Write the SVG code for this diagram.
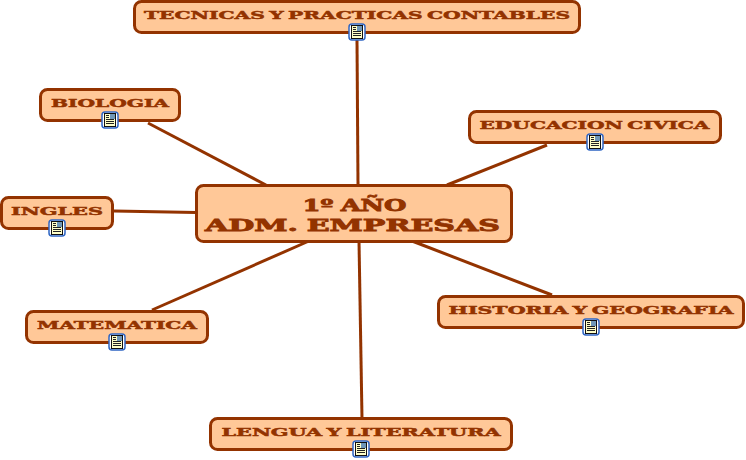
<svg xmlns="http://www.w3.org/2000/svg" width="746" height="460" viewBox="0 0 746 460">
<style>
.n{fill:#ffc898;stroke:#933300;stroke-width:3}
.t{font-family:"DejaVu Serif","Liberation Serif",serif;font-weight:bold;fill:#933300;stroke:#933300;stroke-width:.5;font-size:11.500px;word-spacing:-1.500px;text-anchor:middle}
.m{font-size:16.500px;stroke-width:.8;word-spacing:-1px}
.c{stroke:#933300;stroke-width:3;fill:none}
.i0{fill:#ffffff;stroke:#2f66c4;stroke-width:1.500}
.i2{fill:#ffffc8;stroke:#111;stroke-width:1}
.i3{stroke:#222;stroke-width:1}
.i4{fill:#6f97b8}
</style>
<defs>
<g id="ic">
<rect class="i0" x="-8" y="-8" width="16" height="16" rx="3"/>
<rect class="i2" x="-5.500" y="-6.500" width="11" height="13"/>
<rect class="i4" x="0" y="-6" width="5" height="5"/>
<path class="i3" d="M-4-4.500H-1M-4-2.500H-1M-4-.5H4M-4 1.500H4M-4 3.500H4"/>
</g>
</defs>
<g id="connectors">
<path class="c" d="M357 40L358 185"/>
<path class="c" d="M148 123L266 185"/>
<path class="c" d="M547 145L447 185"/>
<path class="c" d="M114 211L196 212.500"/>
<path class="c" d="M152 310L309 241"/>
<path class="c" d="M552 295L412 241"/>
<path class="c" d="M359 241L362 418"/>
</g>
<g id="n-main"><rect class="n" x="196.500" y="185.500" width="315" height="56" rx="7"/>
<text class="t m" x="354.500" y="211" textLength="104" lengthAdjust="spacingAndGlyphs">1º AÑO</text>
<text class="t m" x="352.500" y="230.500" textLength="295" lengthAdjust="spacingAndGlyphs">ADM. EMPRESAS</text></g>
<g id="n-tecnicas"><rect class="n" x="134.500" y="1.500" width="445" height="31" rx="7"/>
<text class="t" x="357" y="19" textLength="426" lengthAdjust="spacingAndGlyphs">TECNICAS Y PRACTICAS CONTABLES</text><use href="#ic" x="357" y="32"/></g>
<g id="n-biologia"><rect class="n" x="40.500" y="89.500" width="139" height="31" rx="7"/>
<text class="t" x="110" y="107" textLength="118" lengthAdjust="spacingAndGlyphs">BIOLOGIA</text><use href="#ic" x="110" y="120"/></g>
<g id="n-educacion"><rect class="n" x="469.500" y="111.500" width="251" height="31" rx="7"/>
<text class="t" x="594.500" y="129" textLength="230" lengthAdjust="spacingAndGlyphs">EDUCACION CIVICA</text><use href="#ic" x="595" y="142"/></g>
<g id="n-ingles"><rect class="n" x="1.500" y="197.500" width="111" height="31" rx="7"/>
<text class="t" x="57" y="215" textLength="92" lengthAdjust="spacingAndGlyphs">INGLES</text><use href="#ic" x="57" y="228"/></g>
<g id="n-matematica"><rect class="n" x="26.500" y="311.500" width="181" height="31" rx="7"/>
<text class="t" x="117" y="329" textLength="160" lengthAdjust="spacingAndGlyphs">MATEMATICA</text><use href="#ic" x="117" y="342"/></g>
<g id="n-historia"><rect class="n" x="438.500" y="296.500" width="305" height="31" rx="7"/>
<text class="t" x="591" y="314" textLength="285" lengthAdjust="spacingAndGlyphs">HISTORIA Y GEOGRAFIA</text><use href="#ic" x="591" y="327"/></g>
<g id="n-lengua"><rect class="n" x="210.500" y="418.500" width="301" height="31" rx="7"/>
<text class="t" x="361" y="436" textLength="279" lengthAdjust="spacingAndGlyphs">LENGUA Y LITERATURA</text><use href="#ic" x="361" y="449"/></g>
</svg>
